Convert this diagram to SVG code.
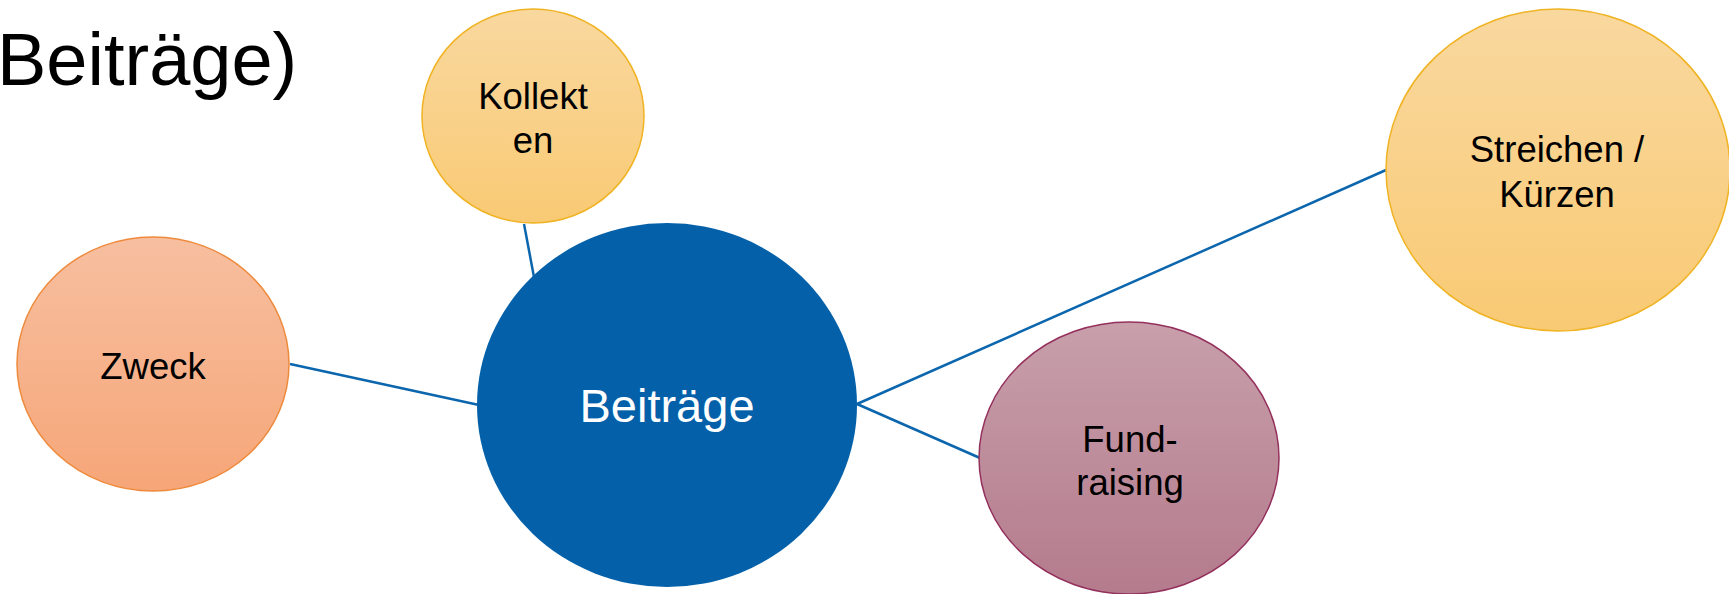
<svg xmlns="http://www.w3.org/2000/svg" width="1729" height="594" viewBox="0 0 1729 594">
<defs>
<linearGradient id="gGold" x1="0" y1="0" x2="0" y2="1"><stop offset="0" stop-color="#F9D89F"/><stop offset="1" stop-color="#F9CA74"/></linearGradient>
<linearGradient id="gOrange" x1="0" y1="0" x2="0" y2="1"><stop offset="0" stop-color="#F7BFA0"/><stop offset="1" stop-color="#F6A678"/></linearGradient>
<linearGradient id="gMauve" x1="0" y1="0" x2="0" y2="1"><stop offset="0" stop-color="#C89FAB"/><stop offset="1" stop-color="#B47B8D"/></linearGradient>
</defs>
<style>
text{font-family:"Liberation Sans",Arial,sans-serif;text-anchor:middle}
.lbl{font-size:36.5px;fill:#000}
.gold{fill:url(#gGold);stroke:#F0B323;stroke-width:1.5}
.conn line{stroke:#0B66AE;stroke-width:2.5}
</style>
<rect width="1729" height="594" fill="#fff"/>
<text x="-3" y="85" style="font-size:74px;text-anchor:start" fill="#000">Beiträge)</text>
<g id="connectors" class="conn">
<line x1="524" y1="224" x2="534" y2="277"/>
<line x1="290" y1="364" x2="479" y2="405"/>
<line x1="857" y1="404" x2="1386" y2="170"/>
<line x1="857" y1="404" x2="980" y2="458"/>
</g>
<g id="kollekten">
<ellipse class="gold" cx="533" cy="116" rx="111" ry="107"/>
<text class="lbl" x="533" y="109">Kollekt</text>
<text class="lbl" x="533" y="153">en</text>
</g>
<g id="zweck">
<ellipse cx="153" cy="364" rx="136" ry="127" fill="url(#gOrange)" stroke="#EE8A3C" stroke-width="1.5"/>
<text class="lbl" x="153" y="379">Zweck</text>
</g>
<g id="beitraege">
<ellipse cx="667" cy="405" rx="190" ry="182" fill="#0461A9"/>
<text x="667" y="422" style="font-size:47px" fill="#fff">Beiträge</text>
</g>
<g id="streichen">
<ellipse class="gold" cx="1558" cy="170" rx="172" ry="161"/>
<text class="lbl" x="1557" y="162">Streichen /</text>
<text class="lbl" x="1557" y="207">Kürzen</text>
</g>
<g id="fundraising">
<ellipse cx="1129" cy="458" rx="150" ry="136" fill="url(#gMauve)" stroke="#94305C" stroke-width="1.5"/>
<text class="lbl" x="1130" y="452">Fund-</text>
<text class="lbl" x="1130" y="495">raising</text>
</g>
</svg>
